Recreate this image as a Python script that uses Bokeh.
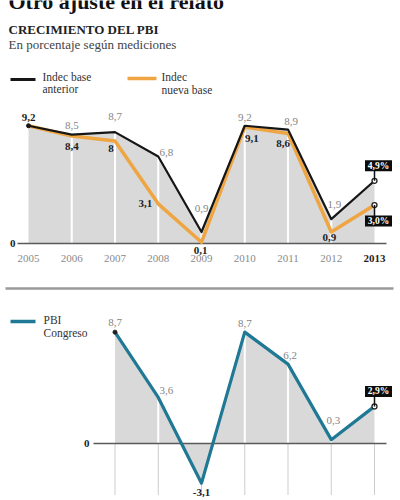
import numpy as np
from bokeh.plotting import figure
from bokeh.models import Range1d
from bokeh.core.properties import value
from bokeh.embed import file_html
from bokeh.resources import INLINE

# ---------------- data ----------------
years = [2005, 2006, 2007, 2008, 2009, 2010, 2011, 2012, 2013]
indec_anterior = [9.2, 8.5, 8.7, 6.8, 0.9, 9.2, 8.9, 1.9, 4.9]
indec_nueva = [9.2, 8.4, 8.0, 3.1, 0.1, 9.1, 8.6, 0.9, 3.0]
congreso_years = [2007, 2008, 2009, 2010, 2011, 2012, 2013]
pbi_congreso = [8.7, 3.6, -3.1, 8.7, 6.2, 0.3, 2.9]
year_labels = ["2005", "2006", "2007", "2008", "2009", "2010", "2011", "2012", "2013"]

title = "Otro ajuste en el relato"
chart_title = "CRECIMIENTO DEL PBI"
subtitle = "En porcentaje según mediciones"
legend_anterior = ["Indec base", "anterior"]
legend_nueva = ["Indec", "nueva base"]
legend_congreso = ["PBI", "Congreso"]

# label placement (pixel offsets: dx right, dy down)
ant_dx = [0, 0, 0, 8, 0, 0, 3, 3, 4]
ant_dy = [0, -9, -16, -4, -23, -8, -8, -15, -15]
nue_dx = [0, 0, -4, -13, -1, 7, -5, -2, 4]
nue_dy = [-8, 11, 7, 0, 8, 11, 10, 6, 16]
con_dx = [0, 8, 0, 0, 2, 2, 4]
con_dy = [-10, -7, 9, -9, -9, -19, -15]

# ---------------- geometry ----------------
W, H = 400, 500
XS = 43.25     # px per year
YS = 12.8      # px per percentage point
X_FIRST = 28   # px of first year
ZERO_TOP = 243
ZERO_BOT = 443

x_start = years[0] - X_FIRST / XS
x_end = x_start + W / XS
yt_end = ZERO_TOP / YS
yt_start = yt_end - H / YS
yb_end = ZERO_BOT / YS
yb_start = yb_end - H / YS


def fx(px):
    return x_start + px / XS


def fy(py):
    return yt_end - py / YS


def fyb(py):
    return yb_end - py / YS


def fmt(v):
    s = f"{v:.1f}"
    if s.endswith(".0"):
        s = s[:-2]
    return s.replace(".", ",")


def fmt_pct(v):
    return f"{v:.1f}".replace(".", ",") + "%"


SERIF = value("'Liberation Serif', serif")
BLACK = "#161616"
ORANGE = "#eea542"
TEAL = "#1f7894"
AREA = "#d9d9d9"
GRAY_TXT = "#858585"
DARK_TXT = "#1e1e1e"

p = figure(width=W, height=H, x_range=Range1d(x_start, x_end),
           y_range=Range1d(yt_start, yt_end),
           output_backend="svg", toolbar_location=None,
           x_axis_location=None, y_axis_location=None,
           min_border=0, outline_line_color=None,
           background_fill_color="white", border_fill_color="white")
p.extra_y_ranges = {"bot": Range1d(yb_start, yb_end)}
p.xgrid.visible = False
p.ygrid.visible = False

# ---------------- header texts ----------------
p.text(x=[fx(8)], y=[fy(1)], text=[title], text_font=SERIF, text_font_size="22px",
       text_font_style="bold", text_color="#111", text_baseline="middle")
p.text(x=[fx(8)], y=[fy(29)], text=[chart_title], text_font=SERIF, text_font_size="13px",
       text_font_style="bold", text_color="#222", text_baseline="middle")
p.text(x=[fx(8)], y=[fy(44)], text=[subtitle], text_font=SERIF, text_font_size="13px",
       text_color="#444", text_baseline="middle")

# legend top
p.segment(x0=[fx(10)], x1=[fx(35)], y0=[fy(79)], y1=[fy(79)], line_color=BLACK, line_width=3)
p.text(x=[fx(42), fx(42)], y=[fy(76), fy(88)], text=legend_anterior, text_font=SERIF,
       text_font_size="11.5px", text_color="#333", text_baseline="middle")
p.segment(x0=[fx(127)], x1=[fx(156)], y0=[fy(78)], y1=[fy(78)], line_color=ORANGE, line_width=3.5)
p.text(x=[fx(161), fx(161)], y=[fy(76), fy(89)], text=legend_nueva, text_font=SERIF,
       text_font_size="11.5px", text_color="#333", text_baseline="middle")

# ---------------- top chart ----------------
top_env = list(np.maximum(indec_anterior, indec_nueva))
p.varea(x=years, y1=[0] * len(years), y2=top_env, fill_color=AREA)
p.segment(x0=years[1:-1], x1=years[1:-1], y0=[0] * (len(years) - 2), y1=top_env[1:-1],
          line_color="white", line_width=2)
p.segment(x0=[fx(17)], x1=[fx(386)], y0=[0], y1=[0], line_color="#5a5a5a", line_width=1.5)
p.text(x=[fx(15)], y=[0], text=["0"], text_font=SERIF, text_font_size="11px",
       text_font_style="bold", text_color=DARK_TXT, text_align="right", text_baseline="middle")

p.line(years, indec_nueva, line_color=ORANGE, line_width=3.5, line_join="round")
p.line(years, indec_anterior, line_color=BLACK, line_width=2.2, line_join="round")
p.scatter([years[0]], [indec_anterior[0]], size=4, fill_color=BLACK, line_color=BLACK)
p.scatter([years[-1], years[-1]], [indec_anterior[-1], indec_nueva[-1]], size=5,
          fill_color="white", line_color="#222", line_width=1.3)

# year labels
p.text(x=years[:-1], y=[fy(258)] * (len(years) - 1), text=year_labels[:-1], text_font=SERIF,
       text_font_size="11px", text_color="#8a8a8a", text_align="center", text_baseline="middle")
p.text(x=[years[-1]], y=[fy(258)], text=[year_labels[-1]], text_font=SERIF,
       text_font_size="11px", text_font_style="bold", text_color=DARK_TXT,
       text_align="center", text_baseline="middle")

# anterior labels (gray), skipping first (shared) and last (boxed)
ax = [years[i] + ant_dx[i] / XS for i in range(1, len(years) - 1)]
ay = [indec_anterior[i] - ant_dy[i] / YS for i in range(1, len(years) - 1)]
p.text(x=ax, y=ay, text=[fmt(v) for v in indec_anterior[1:-1]], text_font=SERIF,
       text_font_size="11px", text_color=GRAY_TXT, text_align="center", text_baseline="middle")
# nueva labels (bold)
nx = [years[i] + nue_dx[i] / XS for i in range(len(years) - 1)]
ny = [indec_nueva[i] - nue_dy[i] / YS for i in range(len(years) - 1)]
p.text(x=nx, y=ny, text=[fmt(v) for v in indec_nueva[:-1]], text_font=SERIF,
       text_font_size="11px", text_font_style="bold", text_color=DARK_TXT,
       text_align="center", text_baseline="middle")

# boxed labels top
bx = years[-1] + ant_dx[-1] / XS
b1 = indec_anterior[-1] - ant_dy[-1] / YS
b2 = indec_nueva[-1] - nue_dy[-1] / YS
p.segment(x0=[years[-1], years[-1]], x1=[years[-1], years[-1]],
          y0=[indec_anterior[-1], indec_nueva[-1]], y1=[b1, b2], line_color="#111", line_width=1.5)
p.rect(x=[bx, bx], y=[b1, b2], width=27, height=11, width_units="screen", height_units="screen",
       fill_color="#0c0c0c", line_color=None)
p.text(x=[bx, bx], y=[b1, b2], text=[fmt_pct(indec_anterior[-1]), fmt_pct(indec_nueva[-1])],
       text_font=SERIF, text_font_size="9.5px", text_font_style="bold", text_color="white",
       text_align="center", text_baseline="middle")

# ---------------- separator ----------------
p.segment(x0=[fx(5)], x1=[fx(393)], y0=[fy(288)], y1=[fy(288)], line_color="#9a9a9a", line_width=2.5)

# ---------------- bottom chart ----------------
p.segment(x0=[fx(10)], x1=[fx(35)], y0=[fyb(321)], y1=[fyb(321)], line_color=TEAL,
          line_width=3.5, y_range_name="bot")
p.text(x=[fx(43), fx(43)], y=[fyb(319), fyb(332)], text=legend_congreso, text_font=SERIF,
       text_font_size="11.5px", text_color="#333", text_baseline="middle", y_range_name="bot")

n = len(congreso_years)
p.segment(x0=congreso_years, x1=congreso_years, y0=[0] * n, y1=[fyb(494)] * n,
          line_color="#9a9a9a", line_width=1, line_dash="1 1", y_range_name="bot")
p.varea(x=congreso_years, y1=[0] * n, y2=pbi_congreso, fill_color=AREA, y_range_name="bot")
p.segment(x0=congreso_years[1:-1], x1=congreso_years[1:-1], y0=[0] * (n - 2),
          y1=[max(v, 0) for v in pbi_congreso[1:-1]], line_color="white", line_width=2,
          y_range_name="bot")
p.segment(x0=[fx(93)], x1=[fx(386)], y0=[0], y1=[0], line_color="#5a5a5a", line_width=1.5,
          y_range_name="bot")
p.text(x=[fx(89)], y=[0], text=["0"], text_font=SERIF, text_font_size="11px",
       text_font_style="bold", text_color=DARK_TXT, text_align="right", text_baseline="middle",
       y_range_name="bot")
p.line(congreso_years, pbi_congreso, line_color=TEAL, line_width=3.2, line_join="round",
       y_range_name="bot")
p.scatter([congreso_years[0]], [pbi_congreso[0]], size=4, fill_color="#222", line_color="#222",
          y_range_name="bot")
p.scatter([congreso_years[-1]], [pbi_congreso[-1]], size=5, fill_color="white", line_color="#222",
          line_width=1.3, y_range_name="bot")

cx = [congreso_years[i] + con_dx[i] / XS for i in range(n - 1)]
cy = [pbi_congreso[i] - con_dy[i] / YS for i in range(n - 1)]
gray_idx = [i for i in range(n - 1) if pbi_congreso[i] >= 0]
neg_idx = [i for i in range(n - 1) if pbi_congreso[i] < 0]
p.text(x=[cx[i] for i in gray_idx], y=[cy[i] for i in gray_idx],
       text=[fmt(pbi_congreso[i]) for i in gray_idx], text_font=SERIF, text_font_size="11px",
       text_color=GRAY_TXT, text_align="center", text_baseline="middle", y_range_name="bot")
p.text(x=[cx[i] for i in neg_idx], y=[cy[i] for i in neg_idx],
       text=[fmt(pbi_congreso[i]) for i in neg_idx], text_font=SERIF, text_font_size="11px",
       text_font_style="bold", text_color=DARK_TXT, text_align="center", text_baseline="middle",
       y_range_name="bot")

cbx = congreso_years[-1] + con_dx[-1] / XS
cby = pbi_congreso[-1] - con_dy[-1] / YS
p.segment(x0=[congreso_years[-1]], x1=[congreso_years[-1]], y0=[pbi_congreso[-1]], y1=[cby],
          line_color="#111", line_width=1.5, y_range_name="bot")
p.rect(x=[cbx], y=[cby], width=27, height=11, width_units="screen", height_units="screen",
       fill_color="#0c0c0c", line_color=None, y_range_name="bot")
p.text(x=[cbx], y=[cby], text=[fmt_pct(pbi_congreso[-1])], text_font=SERIF,
       text_font_size="9.5px", text_font_style="bold", text_color="white",
       text_align="center", text_baseline="middle", y_range_name="bot")

open("out.html", "w").write(file_html(p, INLINE))
